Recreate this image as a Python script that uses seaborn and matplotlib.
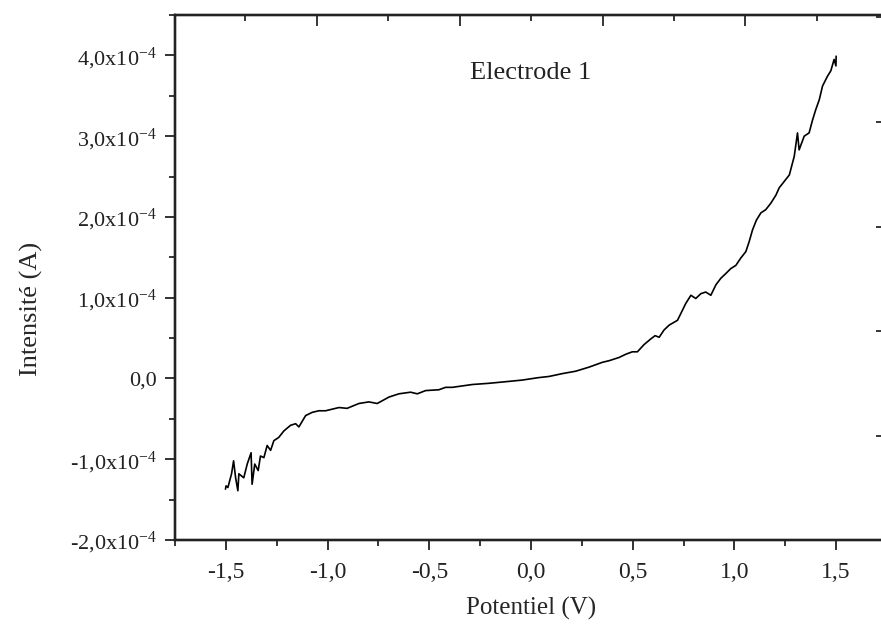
import matplotlib
matplotlib.use("Agg")
import matplotlib.pyplot as plt
import numpy as np
import pandas as pd
import seaborn as sns
from matplotlib.ticker import MultipleLocator

# potential (V) and current (x1e-4 A)
potential = [-1.502, -1.499, -1.490, -1.472, -1.462, -1.452, -1.441, -1.436, -1.412, -1.395,
             -1.376, -1.371, -1.358, -1.341, -1.330, -1.313, -1.297, -1.280, -1.264, -1.240,
             -1.215, -1.182, -1.157, -1.141, -1.108, -1.076, -1.043, -1.010, -0.977, -0.944,
             -0.904, -0.846, -0.797, -0.756, -0.698, -0.649, -0.592, -0.559, -0.518, -0.453,
             -0.420, -0.387, -0.289, -0.207, -0.124, -0.043, 0.036, 0.089, 0.154, 0.220,
             0.285, 0.351, 0.384, 0.433, 0.466, 0.498, 0.523, 0.556, 0.589, 0.610,
             0.630, 0.654, 0.679, 0.720, 0.728, 0.761, 0.786, 0.810, 0.835, 0.859,
             0.884, 0.909, 0.933, 0.958, 0.982, 1.007, 1.031, 1.056, 1.072, 1.089,
             1.108, 1.130, 1.154, 1.179, 1.204, 1.220, 1.270, 1.294, 1.310, 1.318,
             1.343, 1.367, 1.384, 1.400, 1.417, 1.433, 1.457, 1.474, 1.490, 1.499, 1.500]
current_e4 = [-1.37, -1.33, -1.35, -1.18, -1.02, -1.23, -1.39, -1.18, -1.23, -1.06,
              -0.92, -1.31, -1.06, -1.14, -0.96, -0.98, -0.83, -0.89, -0.77, -0.73,
              -0.65, -0.58, -0.56, -0.60, -0.46, -0.42, -0.40, -0.40, -0.38, -0.36,
              -0.37, -0.31, -0.29, -0.31, -0.23, -0.19, -0.17, -0.19, -0.15, -0.14,
              -0.11, -0.11, -0.075, -0.06, -0.04, -0.02, 0.01, 0.025, 0.06, 0.09,
              0.14, 0.20, 0.22, 0.26, 0.30, 0.33, 0.33, 0.42, 0.49, 0.53,
              0.51, 0.60, 0.66, 0.72, 0.76, 0.93, 1.03, 0.99, 1.05, 1.07,
              1.03, 1.16, 1.24, 1.30, 1.36, 1.40, 1.49, 1.57, 1.69, 1.84,
              1.96, 2.05, 2.09, 2.17, 2.27, 2.36, 2.52, 2.75, 3.04, 2.83,
              3.00, 3.04, 3.20, 3.33, 3.45, 3.62, 3.74, 3.81, 3.95, 3.87, 3.99]

x_ticks = [-1.5, -1.0, -0.5, 0.0, 0.5, 1.0, 1.5]
y_ticks_e4 = [-2, -1, 0, 1, 2, 3, 4]

df = pd.DataFrame({"V": potential, "I": np.array(current_e4) * 1e-4})

sns.set_style("ticks")
plt.rcParams["font.family"] = ["Liberation Serif", "DejaVu Serif"]
plt.rcParams["mathtext.fontset"] = "custom"
plt.rcParams["mathtext.rm"] = "Liberation Serif"
plt.rcParams["mathtext.it"] = "Liberation Serif:italic"
plt.rcParams["text.color"] = "#222222"

fig = plt.figure(figsize=(8.81, 6.30), dpi=100)
ax = fig.add_axes([175 / 881, 90 / 630, 712 / 881, 525 / 630])

sns.lineplot(data=df, x="V", y="I", ax=ax, color="black", linewidth=1.2,
             sort=False, estimator=None)

ax.set_xlim(-1.75, 1.75)
ax.set_ylim(-2e-4, 4.5e-4)
ax.set_xticks(x_ticks)
ax.set_xticklabels([f"{v:.1f}".replace(".", ",") for v in x_ticks])
ax.xaxis.set_minor_locator(MultipleLocator(0.25))
ax.set_yticks([v * 1e-4 for v in y_ticks_e4])
ax.set_yticklabels(["0,0" if v == 0 else f"{v:.1f}".replace(".", ",") + "x10$^{-4}$"
                    for v in y_ticks_e4])
ax.yaxis.set_minor_locator(MultipleLocator(0.5e-4))

ax.tick_params(which="major", direction="out", length=7, width=1.3,
               colors="#222222")
ax.tick_params(which="minor", direction="out", length=4, width=1.3)
ax.tick_params(axis="x", which="major", labelsize=17, pad=9)
ax.tick_params(axis="y", which="major", labelsize=16, pad=6)
ax.set_xlabel("Potentiel (V)", fontsize=18, labelpad=10)
ax.set_ylabel("Intensité (A)", fontsize=19)
ax.yaxis.set_label_coords(-0.186, 0.44)
for s in ax.spines.values():
    s.set_linewidth(1.6)
    s.set_color("#222222")

# top frame with its own inward ticks
axt = ax.twiny()
axt.set_xlim(-1.986, 7.983)
axt.xaxis.set_major_locator(MultipleLocator(2))
axt.xaxis.set_minor_locator(MultipleLocator(1))
axt.tick_params(which="major", direction="in", length=8, width=1.3, labeltop=False)
axt.tick_params(which="minor", direction="in", length=4, width=1.3)

# right frame (mostly outside the picture)
axr = ax.twinx()
axr.set_ylim(-3.988, 6.043)
axr.yaxis.set_major_locator(MultipleLocator(2))
axr.yaxis.set_minor_locator(MultipleLocator(1))
axr.tick_params(which="major", direction="in", length=8, width=1.3, labelright=False)
axr.tick_params(which="minor", direction="in", length=4, width=1.3)
for a in (axt, axr):
    for s in a.spines.values():
        s.set_linewidth(1.6)
        s.set_color("#222222")

ax.text(0.0, 3.78e-4, "Electrode 1", fontsize=19, ha="center", va="center")

fig.savefig("out.png", dpi=100)
